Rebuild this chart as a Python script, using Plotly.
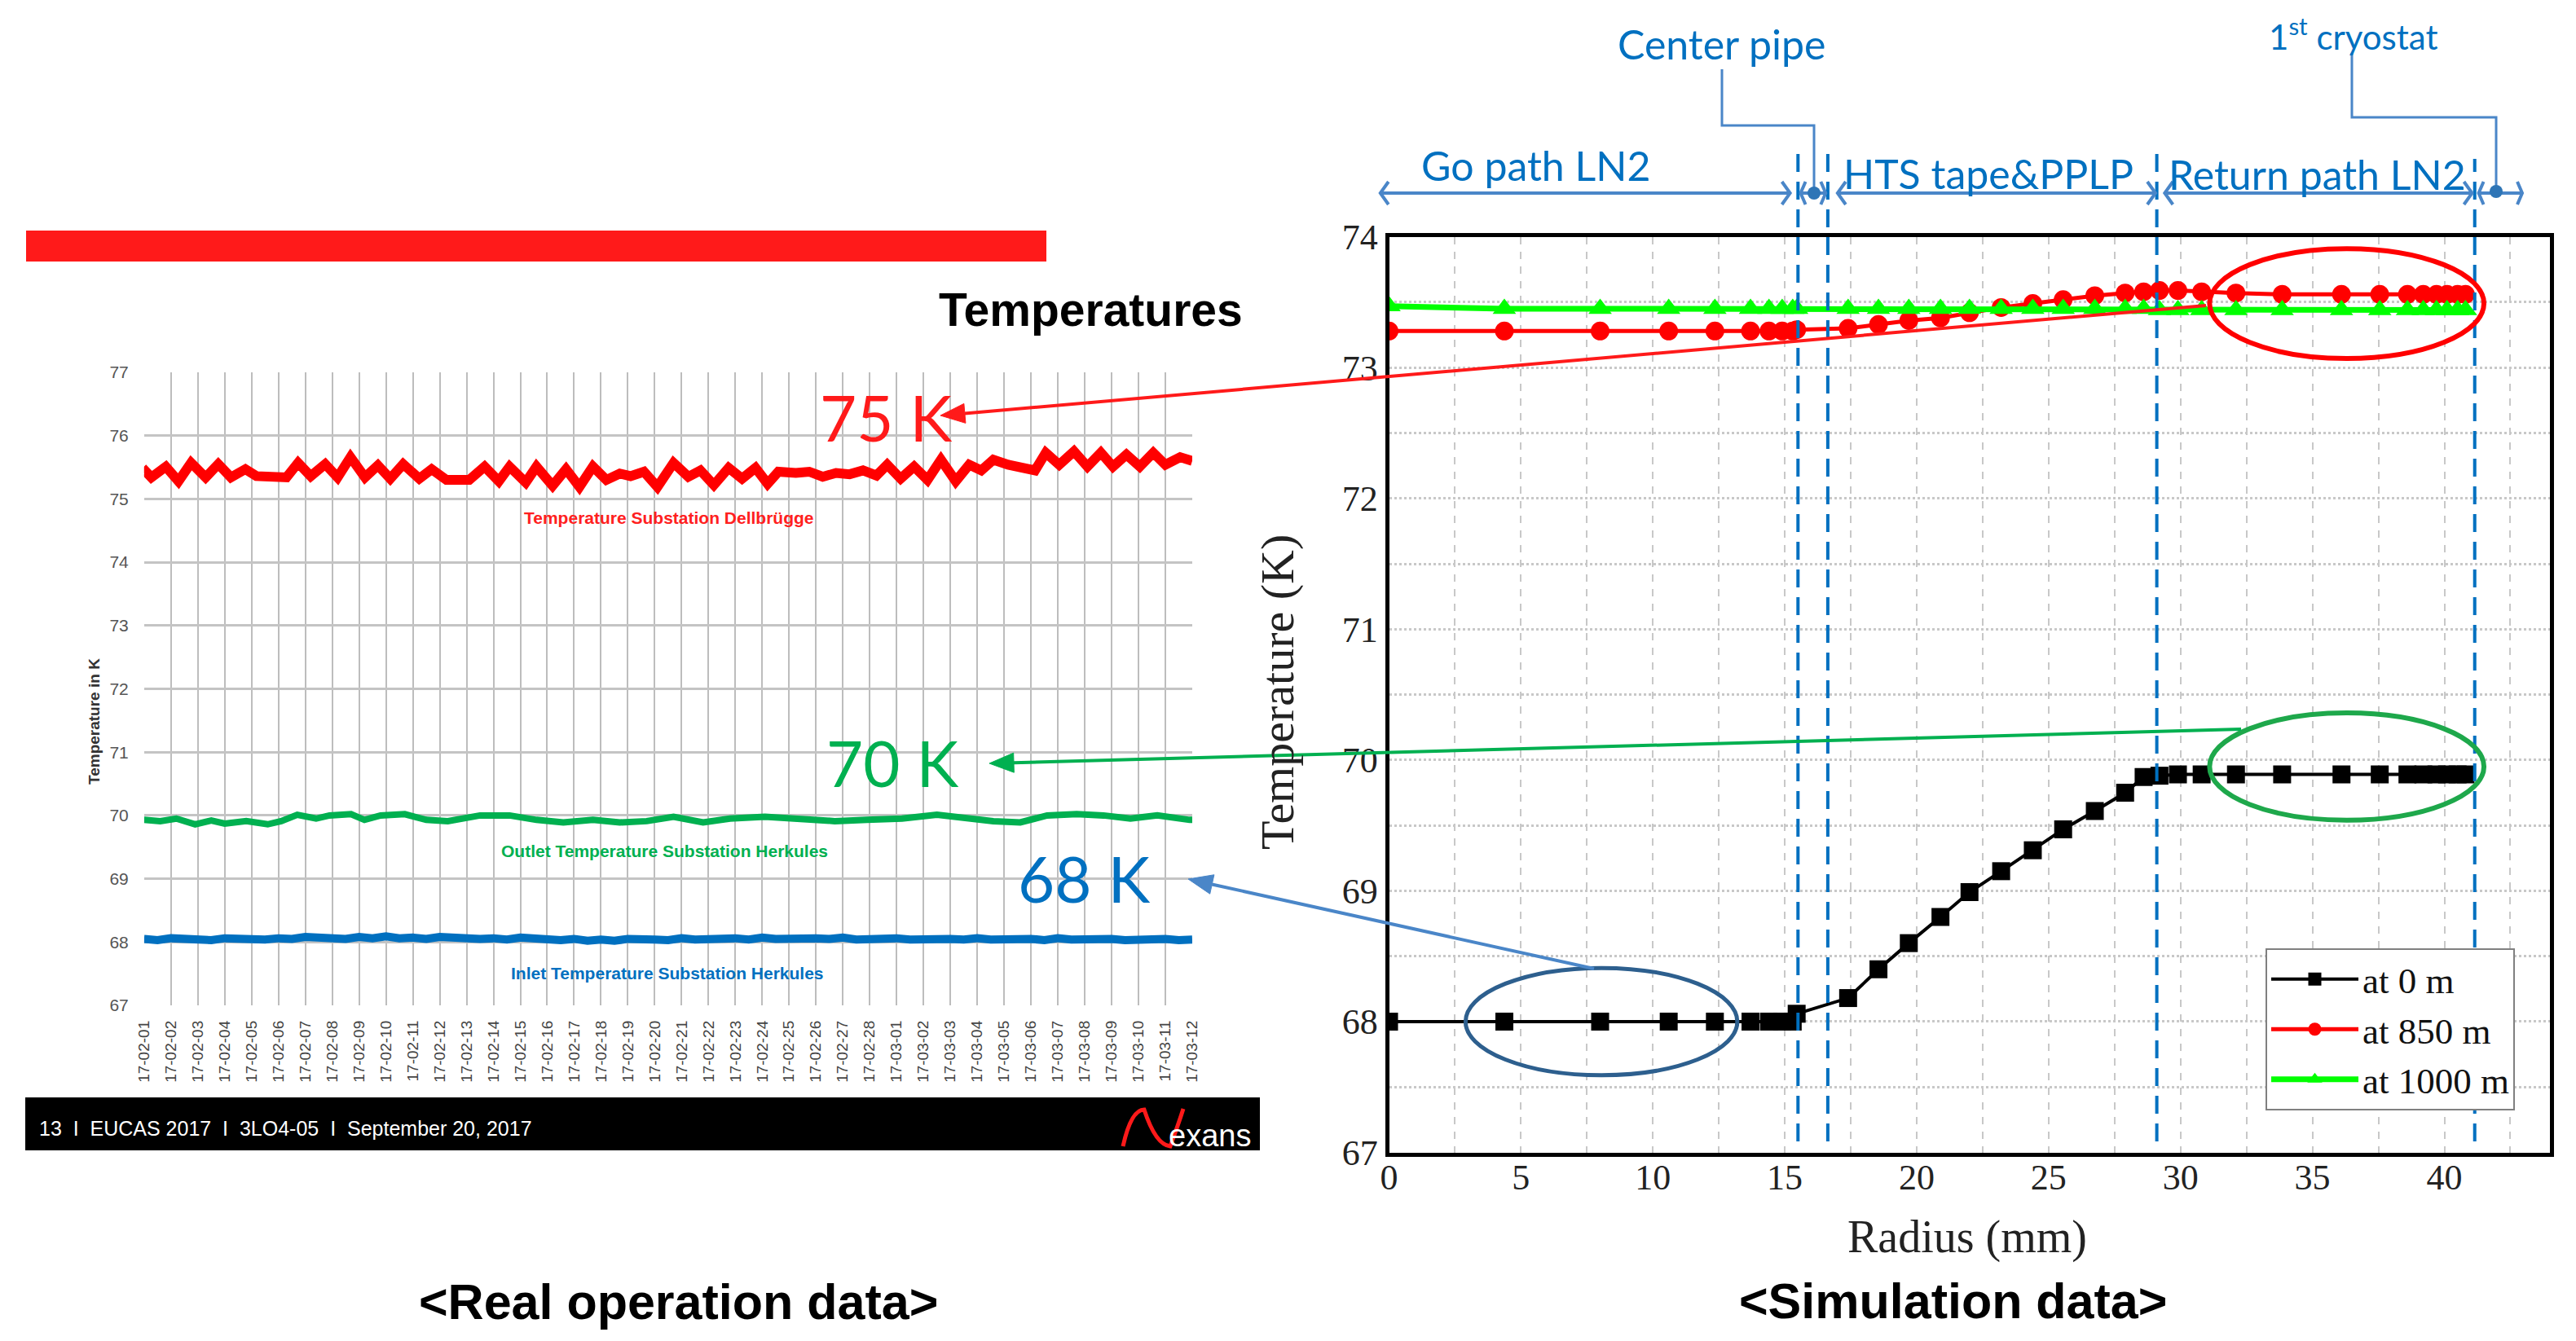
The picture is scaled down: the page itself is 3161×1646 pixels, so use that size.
import math
import pandas as pd
import plotly.graph_objects as go

W, H = 3161, 1646


def px(x):
    return x / W


def py(y):
    return 1 - y / H


# ---------------- left: real operation data ----------------
date_labels = pd.date_range("2017-02-01", "2017-03-12").strftime("%y-%m-%d").tolist()

# day offset from 17-02-01, temperature in K
red_day = [0.0, 0.07, 0.27, 0.81, 1.28, 1.75, 2.29, 2.76, 3.23, 3.77, 4.18, 4.6, 5.0, 5.3,
           5.73, 6.2, 6.74, 7.2, 7.68, 8.22, 8.7, 9.16, 9.64, 10.24, 10.7, 11.25, 12.1, 12.67,
           13.2, 13.6, 14.2, 14.6, 15.2, 15.7, 16.2, 16.7, 17.2, 17.7, 18.1, 18.6, 19.1, 19.7,
           20.25, 20.7, 21.2, 21.75, 22.25, 22.75, 23.2, 23.6, 24.25, 24.75, 25.25, 25.75,
           26.25, 26.75, 27.25, 27.65, 28.15, 28.65, 29.15, 29.65, 30.2, 30.7, 31.15, 31.6,
           32.15, 32.8, 33.15, 33.55, 34.05, 34.6, 35.1, 35.6, 36.05, 36.55, 37.05, 37.55,
           38.0, 38.55, 39.0]
red_temp = [75.40, 75.43, 75.34, 75.51, 75.28, 75.57, 75.34, 75.55, 75.34, 75.47, 75.36, 75.34,
            75.35, 75.34, 75.57, 75.36, 75.55, 75.34, 75.66, 75.34, 75.53, 75.32, 75.55, 75.32,
            75.47, 75.30, 75.30, 75.51, 75.28, 75.51, 75.26, 75.51, 75.21, 75.47, 75.19, 75.51,
            75.30, 75.40, 75.36, 75.43, 75.19, 75.57, 75.35, 75.45, 75.22, 75.49, 75.32, 75.49,
            75.24, 75.43, 75.41, 75.43, 75.35, 75.41, 75.39, 75.45, 75.37, 75.54, 75.32, 75.51,
            75.30, 75.62, 75.28, 75.54, 75.45, 75.62, 75.54, 75.47, 75.45, 75.73, 75.54, 75.75,
            75.51, 75.73, 75.51, 75.70, 75.51, 75.73, 75.54, 75.66, 75.60]

green_day = [0, 0.6, 1.2, 1.9, 2.5, 3.0, 3.8, 4.6, 5.1, 5.7, 6.4, 6.9, 7.7, 8.2, 8.8, 9.7,
             10.5, 11.3, 12.5, 13.6, 14.6, 15.6, 16.7, 17.7, 18.7, 19.7, 20.8, 21.8, 23.1,
             24.4, 25.7, 26.9, 28.2, 29.5, 30.5, 31.6, 32.6, 33.6, 34.7, 35.7, 36.7, 37.7,
             38.9, 39.0]
green_temp = [69.93, 69.91, 69.95, 69.86, 69.92, 69.87, 69.91, 69.86, 69.91, 70.01, 69.95, 70.0,
              70.02, 69.93, 70.0, 70.02, 69.93, 69.91, 70.0, 70.0, 69.93, 69.89, 69.93, 69.89,
              69.91, 69.98, 69.89, 69.95, 69.98, 69.95, 69.91, 69.93, 69.95, 70.01, 69.95, 69.91,
              69.89, 70.0, 70.02, 70.0, 69.95, 70.0, 69.93, 69.93]

blue_day = [i / 2 for i in range(79)]
blue_temp = [68.05, 68.03, 68.06, 68.04, 68.05, 68.03, 68.06, 68.05, 68.07, 68.04,
             68.06, 68.05, 68.08, 68.06, 68.07, 68.05, 68.08, 68.06, 68.09, 68.06,
             68.07, 68.05, 68.08, 68.06, 68.07, 68.05, 68.06, 68.04, 68.07, 68.05,
             68.06, 68.03, 68.05, 68.02, 68.04, 68.02, 68.05, 68.03, 68.04, 68.03,
             68.06, 68.04, 68.05, 68.03, 68.06, 68.04, 68.07, 68.05, 68.06, 68.04,
             68.06, 68.05, 68.07, 68.04, 68.05, 68.03, 68.06, 68.04, 68.05, 68.03,
             68.05, 68.04, 68.06, 68.04, 68.05, 68.03, 68.05, 68.03, 68.06, 68.04,
             68.05, 68.03, 68.05, 68.03, 68.04, 68.02, 68.05, 68.03, 68.04]

# ---------------- right: simulation data ----------------
radius_mm = [0.0, 4.37, 8.0, 10.6, 12.35, 13.7, 14.4, 14.9, 15.3, 15.45, 17.4, 18.55, 19.7,
             20.9, 22.0, 23.2, 24.4, 25.55, 26.75, 27.9, 28.6, 29.2, 29.9, 30.8, 32.1, 33.85,
             36.1, 37.55, 38.6, 39.2, 39.7, 40.1, 40.5, 40.8]
temp_0m = [68.0, 68.0, 68.0, 68.0, 68.0, 68.0, 68.0, 68.0, 68.0, 68.06, 68.18, 68.40, 68.60,
           68.80, 68.99, 69.15, 69.31, 69.47, 69.61, 69.75, 69.87, 69.88, 69.89, 69.89, 69.89,
           69.89, 69.89, 69.89, 69.89, 69.89, 69.89, 69.89, 69.89, 69.89]
temp_850m = [73.28, 73.28, 73.28, 73.28, 73.28, 73.28, 73.28, 73.28, 73.28, 73.29, 73.30, 73.33,
             73.36, 73.38, 73.42, 73.46, 73.49, 73.52, 73.55, 73.57, 73.58, 73.59, 73.59, 73.58,
             73.57, 73.56, 73.56, 73.56, 73.56, 73.56, 73.56, 73.56, 73.56, 73.56]
temp_1000m = [73.47, 73.45, 73.45, 73.45, 73.45, 73.45, 73.45, 73.45, 73.45, 73.45, 73.45, 73.45,
              73.45, 73.45, 73.45, 73.45, 73.45, 73.45, 73.45, 73.45, 73.45, 73.44, 73.44, 73.44,
              73.44, 73.44, 73.44, 73.44, 73.44, 73.44, 73.44, 73.44, 73.44, 73.44]

x_ticks = [0, 5, 10, 15, 20, 25, 30, 35, 40]
y_ticks = [67, 68, 69, 70, 71, 72, 73, 74]

zone_edges = [15.5, 16.63, 29.1, 41.15]   # blue dashed boundaries (mm)
zone_arrows = [(-0.33, 15.2), (15.6, 16.55), (17.0, 29.05), (29.4, 41.05), (41.3, 42.95)]

# pixel frame of the simulation plot
SX0, SX1, SXR = 1704.5, 3129, 44.0
SY0, SY1 = 1414.5, 290.7


def mm_x(mm):
    return SX0 + mm * (SX1 - SX0) / SXR


fig = go.Figure()

fig.add_trace(go.Scatter(x=blue_day, y=blue_temp, mode="lines", line=dict(color="#0070c0", width=10),
                         showlegend=False, xaxis="x", yaxis="y"))
fig.add_trace(go.Scatter(x=green_day, y=green_temp, mode="lines", line=dict(color="#00b050", width=8),
                         showlegend=False, xaxis="x", yaxis="y"))
fig.add_trace(go.Scatter(x=red_day, y=red_temp, mode="lines", line=dict(color="#ff0000", width=12),
                         showlegend=False, xaxis="x", yaxis="y"))

fig.add_trace(go.Scatter(x=radius_mm, y=temp_0m, name="at 0 m", mode="lines+markers",
                         line=dict(color="black", width=4),
                         marker=dict(symbol="square", size=22, color="black"),
                         xaxis="x2", yaxis="y2"))
fig.add_trace(go.Scatter(x=radius_mm, y=temp_850m, name="at 850 m", mode="lines+markers",
                         line=dict(color="#ff0000", width=5),
                         marker=dict(symbol="circle", size=23, color="#ff0000"),
                         xaxis="x2", yaxis="y2"))
fig.add_trace(go.Scatter(x=radius_mm, y=temp_1000m, name="at 1000 m", mode="lines+markers",
                         line=dict(color="#00ff00", width=7),
                         marker=dict(symbol="triangle-up", size=25, color="#00ff00"),
                         xaxis="x2", yaxis="y2"))


def pth(points, close=False):
    s = "M" + " L".join("{:.5f},{:.5f}".format(px(x), py(y)) for x, y in points)
    return s + (" Z" if close else "")


shapes = []
# red title bar and black footer of the slide
shapes.append(dict(type="rect", xref="paper", yref="paper", x0=px(32), x1=px(1284), y0=py(321), y1=py(283),
                   fillcolor="#ff1a1a", line=dict(width=0)))
shapes.append(dict(type="rect", xref="paper", yref="paper", x0=px(31), x1=px(1546), y0=py(1412), y1=py(1347),
                   fillcolor="black", line=dict(width=0)))
# Nexans logo "N"
logo = [(1378, 1407), (1388, 1362), (1404, 1362), (1418, 1405), (1436, 1407), (1446, 1380), (1452, 1361)]
shapes.append(dict(type="path", xref="paper", yref="paper",
                   path="M{},{} Q{},{} {},{} Q{},{} {},{} Q{},{} {},{}".format(
                       *[v for p in logo for v in (px(p[0]), py(p[1]))]),
                   line=dict(color="#ff1a1a", width=5)))

# zone boundaries
for i, e in enumerate(zone_edges):
    shapes.append(dict(type="line", xref="x2", yref="paper", x0=e, x1=e, y0=py(1401),
                       y1=py(183 if i < 3 else 195),
                       line=dict(color="#0070c0", width=4, dash="22px,12px")))

# double arrows above the simulation plot
ROW = 237
for a, b in zone_arrows:
    x0, x1 = mm_x(a), mm_x(b)
    d = 10 if b - a > 2 else 6
    for pts in ([(x0 + d, ROW - 14), (x0, ROW), (x0 + d, ROW + 14)],
                [(x0, ROW), (x1, ROW)],
                [(x1 - d, ROW - 14), (x1, ROW), (x1 - d, ROW + 14)]):
        shapes.append(dict(type="path", xref="paper", yref="paper", path=pth(pts),
                           line=dict(color="#4a86c8", width=4)))

# leader lines for center pipe / cryostat
for pts in ([(2113, 85), (2113, 154), (2226, 154), (2226, 237)],
            [(2886, 65), (2886, 144), (3063, 144), (3063, 235)]):
    shapes.append(dict(type="path", xref="paper", yref="paper", path=pth(pts),
                       line=dict(color="#4a86c8", width=3)))
    cx, cy = pts[-1]
    shapes.append(dict(type="circle", xref="paper", yref="paper", x0=px(cx - 8), x1=px(cx + 8),
                       y0=py(cy + 8), y1=py(cy - 8), fillcolor="#2e75b6", line=dict(width=0)))

# highlight ellipses
shapes.append(dict(type="circle", xref="x2", yref="y2", x0=2.9, x1=13.2, y0=67.59, y1=68.41,
                   line=dict(color="#2d5f8e", width=5)))
shapes.append(dict(type="circle", xref="x2", yref="y2", x0=31.1, x1=41.5, y0=69.54, y1=70.36,
                   line=dict(color="#1ea84b", width=6)))
shapes.append(dict(type="circle", xref="x2", yref="y2", x0=31.1, x1=41.5, y0=73.07, y1=73.91,
                   line=dict(color="#ff0000", width=6)))

# arrows linking simulation results to measured values (head, tail)
for head, tail, color in [((1154, 510), (2707, 375), "#ff1a1a"),
                          ((1214, 937), (2750, 895), "#00b050"),
                          ((1458, 1079), (1956, 1189), "#4a86c8")]:
    dx, dy = tail[0] - head[0], tail[1] - head[1]
    L = math.hypot(dx, dy)
    ux, uy = dx / L, dy / L
    hl, hw = 30, 12
    bx, by = head[0] + ux * hl, head[1] + uy * hl
    shapes.append(dict(type="path", xref="paper", yref="paper", path=pth([(bx, by), tail]),
                       line=dict(color=color, width=4)))
    shapes.append(dict(type="path", xref="paper", yref="paper",
                       path=pth([head, (bx - uy * hw, by + ux * hw), (bx + uy * hw, by - ux * hw)], True),
                       fillcolor=color, line=dict(color=color, width=1)))

sans = "Liberation Sans, Arial, sans-serif"
serif = "Liberation Serif, Times New Roman, serif"
cal = "Lato, Open Sans, sans-serif"


def text(x, y, s, size, color="black", family=sans, xanchor="center", angle=0):
    return dict(x=px(x), y=py(y), xref="paper", yref="paper", text=s, showarrow=False,
                font=dict(family=family, size=size, color=color), xanchor=xanchor,
                yanchor="middle", textangle=angle)


ann = [
    text(1338, 380, "<b>Temperatures</b>", 57),
    text(115, 885, "<b>Temperature in K</b>", 19, color="#333", angle=-90),
    text(821, 636, "<b>Temperature Substation Dellbrügge</b>", 21, color="#ff2020"),
    text(816, 1044, "<b>Outlet Temperature Substation Herkules</b>", 21, color="#00b050"),
    text(819, 1194, "<b>Inlet Temperature Substation Herkules</b>", 21, color="#0070c0"),
    text(1087, 512, "75 K", 78, color="#ff1a1a", family=cal),
    text(1095, 936, "70 K", 78, color="#00b050", family=cal),
    text(1330, 1078, "68 K", 78, color="#0070c0", family=cal),
    text(46, 1385, "13  I  EUCAS 2017  I  3LO4-05  I  September 20, 2017", 25, color="white",
         xanchor="left"),
    text(1432, 1394, "exans", 38, color="white", xanchor="left"),
    text(832, 1598, "<b>&lt;Real operation data&gt;</b>", 61),
    text(2396, 1597, "<b>&lt;Simulation data&gt;</b>", 61),
    text(2414, 1518, "Radius (mm)", 56, color="#222", family=serif),
    text(1567, 850, "Temperature (K)", 58, color="#222", family=serif, angle=-90),
    text(2112, 54, "Center pipe", 50, color="#0070c0", family=cal),
    text(2888, 42, "1<sup>st</sup> cryostat", 42, color="#0070c0", family=cal),
    text(1884, 203, "Go path LN2", 50, color="#0070c0", family=cal),
    text(2440, 213, "HTS tape&amp;PPLP", 50, color="#0070c0", family=cal),
    text(2843, 214, "Return path LN2", 50, color="#0070c0", family=cal),
]

fig.update_layout(
    width=W, height=H, margin=dict(l=0, r=0, t=0, b=0, pad=0, autoexpand=False),
    paper_bgcolor="white", plot_bgcolor="white",
    shapes=shapes, annotations=ann,
    xaxis=dict(domain=[px(176.8), px(1463)], range=[0, 39], tickvals=list(range(40)),
               ticktext=date_labels, tickangle=-90, showgrid=True, gridcolor="#bdbdbd",
               gridwidth=2, zeroline=False, showline=False, ticks="", automargin=False,
               ticklabelstandoff=14,
               tickfont=dict(family=sans, size=19, color="#444"), anchor="y"),
    yaxis=dict(domain=[py(1234), py(457)], range=[67, 77], dtick=1, showgrid=True,
               gridcolor="#c4c4c4", gridwidth=3, zeroline=False, showline=False, ticks="",
               automargin=False, ticklabelstandoff=18,
               tickfont=dict(family=sans, size=21, color="#555"), anchor="x"),
    xaxis2=dict(domain=[px(SX0), px(SX1)], range=[0, SXR], tickvals=x_ticks,
                showgrid=True, griddash="dash", gridcolor="#c8c8c8", gridwidth=2,
                minor=dict(dtick=2.5, tick0=0, showgrid=True, griddash="dash",
                           gridcolor="#c8c8c8", gridwidth=2),
                zeroline=False, showline=True, linecolor="black", linewidth=5, mirror=True,
                ticks="", automargin=False, ticklabelstandoff=-12,
                tickfont=dict(family=serif, size=44, color="#222"), anchor="y2"),
    yaxis2=dict(domain=[py(SY0), py(SY1)], range=[67, 74], tickvals=y_ticks,
                showgrid=True, griddash="dot", gridcolor="#c8c8c8", gridwidth=3,
                minor=dict(dtick=0.5, tick0=67, showgrid=True, griddash="dot",
                           gridcolor="#c8c8c8", gridwidth=3),
                zeroline=False, showline=True, linecolor="black", linewidth=5, mirror=True,
                ticks="", automargin=False,
                tickfont=dict(family=serif, size=44, color="#222"), anchor="x2"),
    legend=dict(x=px(2780), y=py(1164), xanchor="left", yanchor="top", bgcolor="white",
                bordercolor="#808080", borderwidth=2, itemwidth=107,
                font=dict(family=serif, size=45, color="#111")),
)

fig.write_html("out.html", config={"displayModeBar": False},
               post_script="document.body.style.margin='0';document.body.style.overflow='hidden';")
